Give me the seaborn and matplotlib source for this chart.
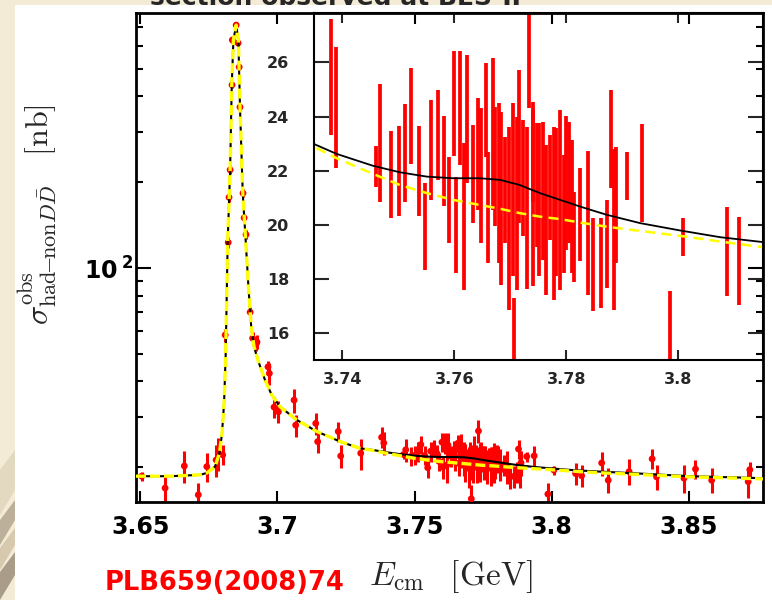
import pandas as pd
import matplotlib
matplotlib.use('Agg')
import matplotlib.pyplot as plt
import seaborn as sns
from matplotlib.patches import Rectangle, Polygon
from matplotlib.ticker import NullFormatter

# measured points: E_cm (GeV), observed cross section (nb), error (nb)
energy = [3.6506, 3.6591, 3.6661, 3.6712, 3.6743, 3.6777, 3.6785, 3.6801, 3.6810, 3.6821,
          3.6824, 3.6828, 3.6835, 3.6836, 3.6850, 3.6857, 3.6861, 3.6864, 3.6875, 3.6879,
          3.6886, 3.6901, 3.6910, 3.6923, 3.6926, 3.6966, 3.6971, 3.6988, 3.7004, 3.7061,
          3.7067, 3.7140, 3.7147, 3.7222, 3.7231, 3.7304,
          3.7380, 3.7388, 3.7460, 3.7468, 3.7487, 3.7501, 3.7512, 3.7523, 3.7537, 3.7548,
          3.7559, 3.7571, 3.7582, 3.7591, 3.7600, 3.7603, 3.7610, 3.7617, 3.7622, 3.7633,
          3.7643, 3.7648, 3.7657, 3.7661, 3.7670, 3.7673, 3.7679, 3.7684, 3.7691, 3.7698,
          3.7704, 3.7707, 3.7712, 3.7716, 3.7723, 3.7729, 3.7733, 3.7740, 3.7741, 3.7747,
          3.7752, 3.7758, 3.7764, 3.7770, 3.7778, 3.7782, 3.7789, 3.7795, 3.7800, 3.7805,
          3.7810, 3.7813, 3.7825, 3.7838, 3.7848, 3.7862, 3.7873, 3.7879, 3.7885, 3.7888,
          3.7909, 3.7936, 3.7986, 3.8008, 3.8087, 3.8109,
          3.8182, 3.8206, 3.8282, 3.8366, 3.8382, 3.8482, 3.8524, 3.8583, 3.8716, 3.8722]
xsec = [18.6, 16.9, 20.2, 16.0, 20.1, 21.2, 22.4, 22.1, 58.2, 123,
        177, 221, 439, 631, 712, 616, 507, 367, 183, 150,
        131, 70, 56.7, 54.2, 55, 45, 42.7, 32.5, 31.3, 34.4,
        28.1, 28.5, 24.6, 26.7, 21.9, 22.4,
        25.47, 24.33, 22.16, 23.03, 21.86, 22.0, 22.66, 24.02, 21.99, 19.92,
        22.76, 23.32, 22.35, 20.92, 24.49, 20.0, 24.32, 20.31, 23.91, 21.88,
        22.61, 21.82, 24.25, 20.65, 23.35, 22.15, 21.55, 20.98, 21.29, 20.24,
        21.29, 15.5, 20.80, 22.89, 21.72, 20.61, 26.8, 20.98, 22.70, 21.47,
        20.92, 21.25, 20.18, 21.38, 20.42, 20.83, 20.92, 20.39, 21.55, 21.56,
        20.67, 19.56, 20.37, 20.06, 18.52, 18.58, 19.29, 23.16, 19.84, 20.73,
        21.81, 21.92, 16.1, 19.54, 19.01, 18.67,
        20.7, 18.0, 19.3, 21.4, 18.5, 18.3, 19.7, 18.0, 17.8, 19.6]
xsec_err = [0.7, 1.7, 2.6, 1.6, 2.4, 2.7, 3.0, 1.8, 3.0, 5,
            6, 8, 12, 15, 20, 15, 12, 10, 6, 5,
            5, 3, 3, 3, 3, 2, 3.7, 2.8, 2.8, 3.3,
            2.5, 2.5, 2.2, 2.2, 2.0, 2.8,
            2.15, 2.24, 0.75, 2.17, 1.62, 1.67, 1.80, 1.78, 1.66, 1.61,
            1.85, 1.66, 1.67, 1.60, 1.94, 1.78, 2.11, 2.71, 2.36, 1.81,
            2.06, 2.49, 1.73, 2.05, 2.80, 2.21, 2.95, 3.20, 1.97, 3.38,
            3.20, 1.8, 3.20, 2.82, 2.15, 3.00, 2.5, 3.26, 1.85, 2.28,
            2.83, 2.55, 2.77, 1.94, 3.20, 2.74, 3.32, 2.18, 2.47, 2.24,
            2.46, 1.66, 1.72, 2.65, 1.72, 1.66, 1.63, 1.81, 2.98, 2.15,
            0.89, 1.80, 1.45, 0.71, 1.66, 1.63,
            2.0, 1.8, 2.0, 1.7, 1.8, 2.0, 1.5, 1.8, 2.2, 1.2]

# fit curves: total fit and fit without psi(3770)
fit_energy = [3.6485, 3.6609, 3.6719, 3.6743, 3.6762, 3.6773, 3.6789, 3.6798, 3.6806, 3.6812,
              3.6819, 3.6828, 3.6834, 3.6840, 3.6850, 3.6858, 3.6864, 3.6874, 3.6883, 3.6895,
              3.6905, 3.6915, 3.6931, 3.6955, 3.6980, 3.7010, 3.7071, 3.7144, 3.7229, 3.7301,
              3.7349, 3.7390, 3.7455, 3.7503, 3.7551, 3.7598, 3.7646, 3.7682, 3.7717, 3.7753,
              3.7789, 3.7825, 3.7872, 3.7932, 3.8003, 3.8075, 3.8151, 3.8321, 3.8504, 3.8686,
              3.8770]
fit_total = [18.6, 18.6, 18.8, 19.1, 19.7, 20.1, 22.4, 26.0, 33.6, 50.3,
             123, 221, 439, 631, 712, 631, 367, 183, 133, 85,
             62, 53, 47, 40.5, 35.8, 32.6, 29.3, 26.7, 24.6, 23.3,
             22.99, 22.62, 22.18, 21.94, 21.78, 21.72, 21.72, 21.66, 21.47, 21.17,
             20.92, 20.67, 20.37, 20.06, 19.79, 19.54, 19.36, 19.0, 18.6, 18.4,
             18.3]
fit_nopsi = [18.6, 18.6, 18.8, 19.1, 19.7, 20.1, 22.4, 26.0, 33.6, 50.3,
             123, 221, 439, 631, 712, 631, 367, 183, 133, 85,
             62, 53, 47, 40.5, 35.8, 32.6, 29.3, 26.7, 24.6, 23.3,
             22.89, 22.46, 21.88, 21.47, 21.17, 20.92, 20.73, 20.59, 20.43, 20.30,
             20.21, 20.08, 19.93, 19.77, 19.59, 19.38, 19.17, 18.85, 18.5, 18.3,
             18.2]

main_xticks = [3.65, 3.7, 3.75, 3.8, 3.85]
main_xlabels = ['3.65', '3.7', '3.75', '3.8', '3.85']
inset_xticks = [3.74, 3.76, 3.78, 3.8]
inset_xlabels = ['3.74', '3.76', '3.78', '3.8']
inset_yticks = [16, 18, 20, 22, 24, 26]

W, H = 772, 600


def fig_box(x0, y0, x1, y1):
    # pixel box (top-left origin) -> figure fraction rect
    return [x0 / W, 1 - y1 / H, (x1 - x0) / W, (y1 - y0) / H]


def fig_pt(x, y):
    return (x / W, 1 - y / H)


if __name__ == '__main__':
    sns.set_style('ticks')
    plt.rcParams['font.family'] = ['DejaVu Sans']
    plt.rcParams['mathtext.fontset'] = 'dejavusans'

    df = pd.DataFrame({'E': energy, 'sigma': xsec, 'err': xsec_err})
    fit = pd.DataFrame({'E': fit_energy, 'total': fit_total, 'nopsi': fit_nopsi})

    fig = plt.figure(figsize=(W / 100, H / 100), dpi=100, facecolor='#f4ebd6')
    # a bit of the slide's marble texture in the lower left strip
    for pts, col in [([(0, 470), (15, 450), (15, 490), (0, 515)], '#e3d8c0'),
                     ([(0, 520), (15, 500), (15, 520), (0, 545)], '#bdb09a'),
                     ([(0, 548), (15, 528), (15, 545), (0, 570)], '#d6c9ae'),
                     ([(0, 572), (15, 552), (15, 575), (0, 600)], '#a99d8a')]:
        fig.add_artist(Polygon([fig_pt(*p) for p in pts], closed=True,
                               transform=fig.transFigure, fc=col, ec='none', zorder=-6))
    fig.add_artist(Rectangle((15 / W, 0), 1, 1 - 5 / H, transform=fig.transFigure,
                             fc='white', ec='none', zorder=-5))

    # ---- main panel (log scale) ----
    ax = fig.add_axes(fig_box(136, 13, 763, 502))
    ax.set_yscale('log')
    ax.set_zorder(2)
    ax.patch.set_visible(False)

    ax.errorbar(df['E'], df['sigma'], yerr=df['err'], fmt='none', ecolor='red',
                elinewidth=2.2, capsize=0, zorder=2)
    sns.scatterplot(data=df, x='E', y='sigma', ax=ax, color='red', s=24,
                    edgecolor='none', zorder=3)
    sns.lineplot(data=fit, x='E', y='total', ax=ax, color='black', lw=1.5,
                 sort=False, estimator=None, zorder=4)
    sns.lineplot(data=fit, x='E', y='nopsi', ax=ax, color='#ffff00', lw=2.4,
                 sort=False, estimator=None, linestyle=(0, (3, 1.2)), zorder=5)

    ax.set_xlim(3.6485, 3.8770)
    ax.set_ylim(15.1, 785)
    ax.set_xlabel('')
    ax.set_ylabel('')
    ax.set_xticks(main_xticks, main_xlabels, fontsize=17, fontweight='bold')
    ax.set_yticks([100], [r'$\mathbf{10}^{\;\mathbf{2}}$'], fontsize=17)
    ax.yaxis.set_minor_formatter(NullFormatter())
    ax.tick_params(which='both', direction='in', top=True, right=True, width=1.5,
                   colors='black')
    ax.tick_params(axis='x', which='major', length=8, pad=9)
    ax.tick_params(axis='y', which='major', length=11, pad=1.5)
    ax.tick_params(axis='y', which='minor', length=5)
    for sp in ax.spines.values():
        sp.set_linewidth(2.0)
        sp.set_color('black')

    # ---- inset (linear) ----
    axi = fig.add_axes(fig_box(314, 13, 763, 360))
    axi.set_zorder(1)
    axi.set_facecolor('white')
    axi.errorbar(df['E'], df['sigma'], yerr=df['err'], fmt='none', ecolor='red',
                 elinewidth=2.7, capsize=0, zorder=2)
    sns.lineplot(data=fit, x='E', y='total', ax=axi, color='black', lw=1.3,
                 sort=False, estimator=None, zorder=4)
    sns.lineplot(data=fit, x='E', y='nopsi', ax=axi, color='#ffff00', lw=1.8,
                 sort=False, estimator=None, linestyle=(0, (4, 2.5)), zorder=5)
    axi.set_xlim(3.73495, 3.81512)
    axi.set_ylim(15.0, 27.83)
    axi.set_xlabel('')
    axi.set_ylabel('')
    axi.set_xticks(inset_xticks, inset_xlabels, fontsize=11.5, fontweight='bold')
    axi.set_yticks(inset_yticks, [str(v) for v in inset_yticks], fontsize=11.5,
                   fontweight='bold')
    axi.tick_params(which='both', direction='in', top=True, right=True, width=1.5)
    axi.tick_params(axis='x', length=7.5, pad=8.5)
    axi.tick_params(axis='y', length=11, pad=18)
    for sp in axi.spines.values():
        sp.set_linewidth(1.5)
        sp.set_color('black')

    # ---- texts ----
    fig.text(335 / W, 1 - 5 / H, 'section observed at BES-II', ha='center',
             va='baseline', fontsize=18, fontweight='bold', zorder=10)
    fig.text(38 / W, 1 - 215 / H,
             r'$\sigma^{\rm obs}_{{\rm had}\!\!-\!\!{\rm non}D\bar{D}}\quad[{\rm nb}]$',
             rotation=90, ha='center', va='center', fontsize=23,
             math_fontfamily='cm')
    fig.text(105 / W, 1 - 590 / H, 'PLB659(2008)74', color='red', ha='left',
             va='baseline', fontsize=18.5, fontweight='bold')
    fig.text(369 / W, 1 - 585 / H, r'$E_{\rm cm}\ \ \,[{\rm GeV}]$', ha='left',
             va='baseline', fontsize=24, math_fontfamily='cm')

    fig.savefig('out.png', dpi=100, facecolor=fig.get_facecolor())
